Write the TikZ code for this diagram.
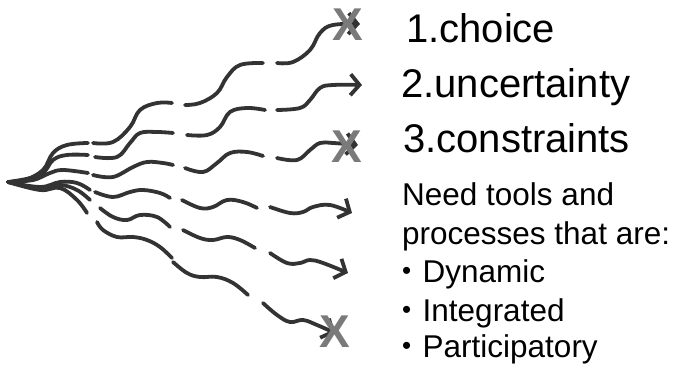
\documentclass[tikz,border=0pt]{standalone}
\usepackage{fontspec}
\setmainfont{Liberation Sans}
\usetikzlibrary{arrows.meta}
\definecolor{pathgray}{HTML}{333333}
\definecolor{markgray}{HTML}{7A7A7A}
\newcommand{\listdot}{\makebox[20.5pt][l]{\raisebox{3.5pt}{\fontsize{26}{26}\selectfont•}}}
\tikzset{
  path/.style={draw=pathgray, line width=3.8pt, line cap=round, line join=round},
  seg/.style={path, smooth, tension=0.65},
  lastseg/.style={seg, -{Straight Barb[length=9pt,width=21pt,line width=3.8pt]}},
  bigtext/.style={anchor=base west, inner sep=0pt, font=\fontsize{40}{40}\selectfont},
  smalltext/.style={anchor=base west, inner sep=0pt, font=\fontsize{31.5}{31.5}\selectfont},
  xmark/.style={text=markgray, inner sep=0pt, font=\fontsize{46}{46}\selectfont\bfseries}
}
\begin{document}
\begin{tikzpicture}[x=1pt, y=-1pt]
\useasboundingbox (0,0) rectangle (683,371);
\coordinate (o) at (8,182);

% path 1 (top)
\draw[seg] plot coordinates {(o) (25,180) (43,170) (53,153) (67,145) (88,143)};
\draw[seg] plot coordinates {(93,143) (113,142) (130,127) (140,110) (157,103) (172,103)};
\draw[seg] plot coordinates {(185,105) (200,103) (217,93) (227,77) (240,65) (263,63)};
\draw[lastseg] plot coordinates {(277,63) (293,62) (310,50) (320,33) (333,25) (360,24)};

% path 2
\draw[seg] plot coordinates {(o) (40,175) (53,160) (67,155) (88,155)};
\draw[seg] plot coordinates {(95,157) (117,157) (130,143) (140,133) (157,132) (173,133)};
\draw[seg] plot coordinates {(187,135) (207,135) (220,127) (230,112) (247,108) (265,110)};
\draw[lastseg] plot coordinates {(277,110) (300,108) (310,100) (320,88) (333,85) (362,85)};

% path 3
\draw[seg] plot coordinates {(o) (33,180) (50,173) (63,170) (88,173)};
\draw[seg] plot coordinates {(93,175) (113,177) (133,167) (147,162) (163,163) (173,165)};
\draw[seg] plot coordinates {(185,168) (203,172) (217,163) (230,153) (247,152) (263,156)};
\draw[lastseg] plot coordinates {(277,158) (297,160) (310,150) (320,143) (333,143) (358,145)};

% path 4
\draw[seg] plot coordinates {(o) (40,187) (60,182) (77,183) (90,190)};
\draw[seg] plot coordinates {(95,192) (113,197) (130,192) (143,190) (160,193) (170,198)};
\draw[seg] plot coordinates {(182,200) (200,208) (213,207) (227,200) (243,202) (257,208)};
\draw[lastseg] plot coordinates {(270,207) (290,213) (303,212) (313,207) (330,205) (352,213)};

% path 5
\draw[seg] plot coordinates {(o) (40,188) (60,185) (77,190) (90,200)};
\draw[seg] plot coordinates {(100,208) (113,217) (127,220) (140,215) (157,217) (170,227)};
\draw[seg] plot coordinates {(183,230) (200,238) (213,240) (227,237) (240,240) (255,248)};
\draw[lastseg] plot coordinates {(270,253) (287,263) (300,263) (310,260) (323,263) (348,273)};

% path 6 (bottom)
\draw[seg] plot coordinates {(o) (40,190) (60,188) (77,200) (87,213)};
\draw[seg] plot coordinates {(97,222) (103,230) (117,237) (133,237) (147,240) (160,247) (172,258)};
\draw[seg] plot coordinates {(173,262) (187,273) (200,277) (217,277) (233,283) (248,295)};
\draw[lastseg] plot coordinates {(263,303) (277,315) (290,322) (303,320) (317,325) (335,333)};

% crosses over the blocked ends
\node[xmark] (x1) at (348,25) {X};
\node[xmark] (x2) at (347,147) {X};
\node[xmark] (x3) at (335,332) {X};

% labels
\node[bigtext] (t1) at (406,43) {1.choice};
\node[bigtext] (t2) at (401,98) {2.uncertainty};
\node[bigtext] (t3) at (403,153) {3.constraints};

\node[smalltext] (n1) at (402,206) {Need tools and};
\node[smalltext] (n2) at (402,245) {processes that are:};
\node[smalltext] (n3) at (402,283) {\listdot Dynamic};
\node[smalltext] (n4) at (402,322) {\listdot Integrated};
\node[smalltext] (n5) at (402,358) {\listdot Participatory};
\end{tikzpicture}
\end{document}
